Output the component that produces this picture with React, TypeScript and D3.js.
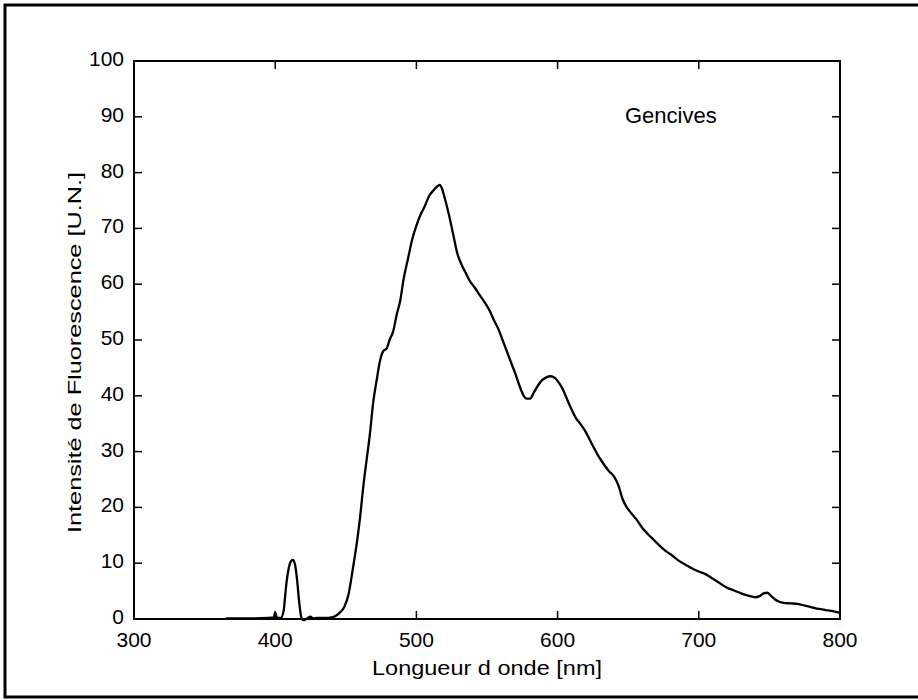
import React, { useEffect, useRef } from 'react';
import * as d3 from 'd3';

// spectre de fluorescence (gencives)
const wavelength = [
  365, 380, 395, 399, 400, 401, 404, 406, 407, 408, 409.5, 411, 412.5, 414, 415.5, 417, 418.5, 420, 422, 425,
  427, 430, 435, 440, 443, 446, 449, 452, 455, 458, 460, 462.5, 465, 467, 469.5, 472, 474, 476.5, 479, 481,
  483.5, 486, 488.5, 491, 494, 497, 500, 503, 506, 509, 512, 514.5, 516.5, 518, 520, 523, 526, 529, 532, 535,
  538, 541, 545, 549, 552, 555, 558, 561, 564, 567, 570, 573, 576, 578, 580.5, 583, 586, 589, 592, 595,
  598, 601, 604, 607, 610, 613, 616, 620, 624, 628, 632, 636, 640, 643, 646, 649, 652, 656, 660, 664,
  668, 672, 676, 680, 685, 690, 695, 700, 705, 710, 715, 720, 725, 730, 735, 740, 743, 746, 748.5, 751,
  754, 757, 760, 765, 770, 775, 780, 785, 790, 795, 800,
];
const intensity = [
  0.1, 0.1, 0.2, 0.3, 1.2, 0.3, 0.2, 1.5, 4, 6.5, 9, 10.3, 10.6, 9.8, 7, 3, 0.3, -0.2, 0, 0.4,
  0.1, 0.2, 0.2, 0.3, 0.6, 1.2, 2.2, 4.5, 9, 14, 18, 24, 29, 33, 39, 43, 46, 48, 48.5, 50,
  51.5, 54.5, 57, 61, 64.5, 68, 70.5, 72.5, 74, 75.8, 76.8, 77.5, 77.8, 77.2, 75.5, 72.5, 69, 65.5, 63.5, 62,
  60.5, 59.5, 58, 56.5, 55.2, 53.5, 52, 50, 48, 46, 44, 41.8, 40, 39.5, 39.5, 40.5, 41.8, 42.8, 43.3, 43.5,
  43.2, 42.3, 41, 39.2, 37.5, 36, 35, 33.5, 31.5, 29.6, 28, 26.6, 25.5, 24, 21.5, 20, 19, 17.8, 16.3, 15.2,
  14.2, 13.2, 12.3, 11.6, 10.6, 9.8, 9.1, 8.5, 8, 7.2, 6.4, 5.6, 5.1, 4.6, 4.2, 3.9, 4.1, 4.6, 4.7, 4.2,
  3.5, 3.1, 2.9, 2.8, 2.7, 2.4, 2.1, 1.8, 1.6, 1.4, 1.1,
];

const xTicks = [300, 400, 500, 600, 700, 800];
const yTicks = [0, 10, 20, 30, 40, 50, 60, 70, 80, 90, 100];

const xTitle = 'Longueur d onde [nm]';
const yTitle = 'Intensité de Fluorescence [U.N.]';
const label = 'Gencives';

const W = 918;
const H = 700;
const margin = { left: 134, right: 78, top: 61, bottom: 81 };
const FONT = '"Liberation Sans", Arial, sans-serif';

export default function App() {
  const svgRef = useRef<SVGSVGElement>(null);

  useEffect(() => {
    if (!svgRef.current) return;
    const svg = d3.select(svgRef.current);
    svg.selectAll('*').remove();

    const x0 = margin.left, x1 = W - margin.right;
    const y0 = margin.top, y1 = H - margin.bottom;

    const x = d3.scaleLinear().domain([300, 800]).range([x0, x1]);
    const y = d3.scaleLinear().domain([0, 100]).range([y1, y0]);

    // cadre exterieur
    svg.append('rect')
      .attr('x', 5).attr('y', 5)
      .attr('width', W + 10).attr('height', 692)
      .attr('fill', 'none').attr('stroke', '#000').attr('stroke-width', 3);

    const g = svg.append('g');

    // ticks vers l'interieur sur les 4 cotes
    const tl = 8;
    xTicks.forEach(t => {
      g.append('line').attr('x1', x(t)).attr('x2', x(t)).attr('y1', y1).attr('y2', y1 - tl)
        .attr('stroke', '#000').attr('stroke-width', 1.5);
      g.append('line').attr('x1', x(t)).attr('x2', x(t)).attr('y1', y0).attr('y2', y0 + tl)
        .attr('stroke', '#000').attr('stroke-width', 1.5);
      g.append('text')
        .attr('x', x(t)).attr('y', y1 + 28)
        .attr('text-anchor', 'middle')
        .style('font-family', FONT).style('font-size', '21px')
        .text(t);
    });
    yTicks.forEach(t => {
      g.append('line').attr('x1', x0).attr('x2', x0 + tl).attr('y1', y(t)).attr('y2', y(t))
        .attr('stroke', '#000').attr('stroke-width', 1.5);
      g.append('line').attr('x1', x1).attr('x2', x1 - tl).attr('y1', y(t)).attr('y2', y(t))
        .attr('stroke', '#000').attr('stroke-width', 1.5);
      g.append('text')
        .attr('x', x0 - 10).attr('y', y(t) + 5)
        .attr('text-anchor', 'end')
        .style('font-family', FONT).style('font-size', '21px')
        .text(t);
    });

    // boite des axes
    g.append('rect')
      .attr('x', x0).attr('y', y0)
      .attr('width', x1 - x0).attr('height', y1 - y0)
      .attr('fill', 'none').attr('stroke', '#000').attr('stroke-width', 2);

    // courbe
    const pts = wavelength.map((w, i) => [w, intensity[i]] as [number, number]);
    const line = d3.line<[number, number]>()
      .x(d => x(d[0]))
      .y(d => y(d[1]))
      .curve(d3.curveMonotoneX);
    g.append('path')
      .datum(pts)
      .attr('d', line)
      .attr('fill', 'none')
      .attr('stroke', '#000')
      .attr('stroke-width', 2.3)
      .attr('stroke-linejoin', 'round');

    // titres
    g.append('text')
      .attr('x', 372).attr('y', 675)
      .attr('textLength', 230).attr('lengthAdjust', 'spacingAndGlyphs')
      .style('font-family', FONT).style('font-size', '20px')
      .text(xTitle);

    g.append('text')
      .attr('transform', 'translate(81,533) rotate(-90)')
      .attr('textLength', 361).attr('lengthAdjust', 'spacingAndGlyphs')
      .style('font-family', FONT).style('font-size', '19px')
      .text(yTitle);

    g.append('text')
      .attr('x', 625).attr('y', 123)
      .style('font-family', FONT).style('font-size', '22px')
      .text(label);
  }, []);

  return (
    <div style={{ position: 'fixed', left: 0, top: 0, width: W, height: H, background: '#fff' }}>
      <svg ref={svgRef} width={W} height={H} style={{ display: 'block' }} />
    </div>
  );
}
